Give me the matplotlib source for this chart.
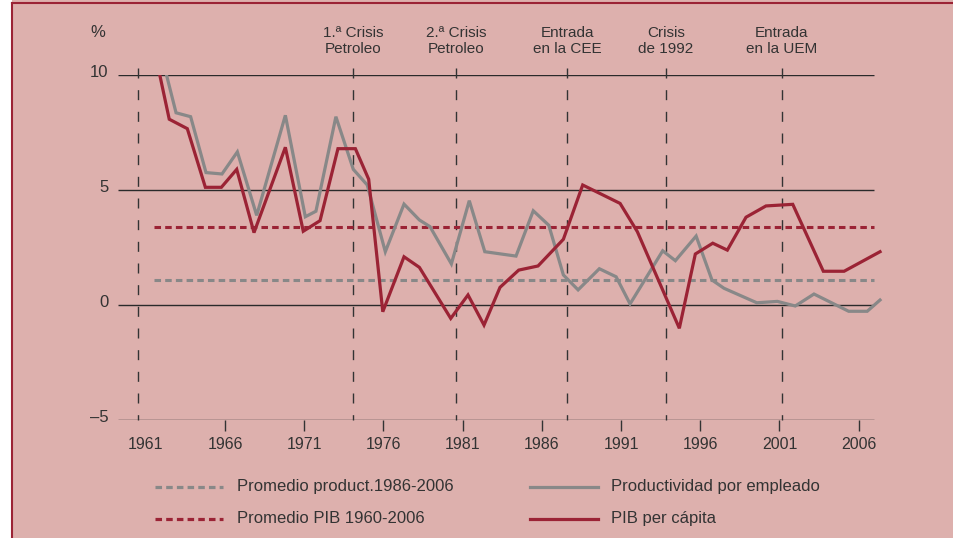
import matplotlib
matplotlib.use("Agg")
import matplotlib.pyplot as plt
from matplotlib.lines import Line2D
from matplotlib.patches import Rectangle
from matplotlib.transforms import ScaledTranslation

plt.rcParams['font.family'] = ['Liberation Sans', 'DejaVu Sans']
plt.rcParams['lines.scale_dashes'] = False

# --- data (x in axis years, y in %) ---
pib_x = [1961.39, 1962.48, 1963.62, 1964.76, 1965.77, 1966.74, 1967.83, 1969.81,
         1970.94, 1972.0, 1973.13, 1974.23, 1975.07, 1975.96, 1977.3, 1978.27,
         1980.25, 1981.34, 1982.35, 1983.36, 1984.54, 1985.76, 1987.36, 1988.58,
         1990.94, 1992.03, 1994.68, 1995.69, 1996.79, 1997.71, 1998.89, 2000.15,
         2001.84, 2003.77, 2005.08, 2007.35]
pib_y = [11.6, 8.09, 7.68, 5.13, 5.13, 5.91, 3.16, 6.87,
         3.22, 3.68, 6.81, 6.81, 5.48, -0.28, 2.11, 1.65,
         -0.57, 0.45, -0.86, 0.78, 1.53, 1.71, 2.87, 5.23,
         4.43, 3.2, -1.0, 2.23, 2.7, 2.4, 3.83, 4.32,
         4.39, 1.48, 1.48, 2.33]

prod_x = [1961.58, 1962.91, 1963.83, 1964.8, 1965.81, 1966.78, 1968.0, 1969.81,
          1971.07, 1971.74, 1973.0, 1974.1, 1974.98, 1976.12, 1977.3, 1978.27,
          1978.94, 1980.29, 1981.42, 1982.4, 1984.37, 1985.46, 1986.44, 1987.36,
          1988.29, 1989.63, 1990.69, 1991.57, 1993.63, 1994.43, 1995.74, 1996.74,
          1997.5, 1999.57, 2000.87, 2002.0, 2003.18, 2005.37, 2006.54, 2007.35]
prod_y = [12.0, 8.37, 8.2, 5.77, 5.71, 6.67, 3.91, 8.26,
          3.85, 4.09, 8.2, 5.91, 5.23, 2.33, 4.4, 3.71,
          3.42, 1.8, 4.55, 2.33, 2.14, 4.11, 3.48, 1.32,
          0.67, 1.59, 1.24, 0.06, 2.37, 1.94, 3.01, 1.1,
          0.74, 0.11, 0.17, -0.03, 0.49, -0.26, -0.26, 0.23]

prom_pib = 3.39
prom_prod = 1.09
prom_span = [1961.52, 2007.0]

event_x = [1960.53, 1974.1, 1980.6, 1987.6, 1993.84, 2001.16]
event_labels = ['', '1.ª Crisis\nPetroleo', '2.ª Crisis\nPetroleo',
                'Entrada\nen la CEE', 'Crisis\nde 1992', 'Entrada\nen la UEM']

year_ticks = [1961, 1966, 1971, 1976, 1981, 1986, 1991, 1996, 2001, 2006]
y_ticks = [-5, 0, 5, 10]
y_labels = ['–5', '0', '5', '10']

legend_labels = ['Promedio product.1986-2006', 'Promedio PIB 1960-2006',
                 'Productividad por empleado', 'PIB per cápita']

# --- style ---
W, H = 954, 538
bg = '#DDB0AD'
red = '#9B2335'
gray = '#888888'
ink = '#333333'
dot = (0, (4.7, 3.0))

fig = plt.figure(figsize=(W / 100, H / 100), dpi=100, facecolor='white')
fig.add_artist(Rectangle((12 / W, 0), 1 - 12 / W, 1, transform=fig.transFigure,
                         facecolor=bg, edgecolor='none', zorder=-10))
fig.add_artist(Line2D([12.5 / W, 1], [1 - 3 / H, 1 - 3 / H], transform=fig.transFigure,
                      color=red, lw=1.5))
fig.add_artist(Line2D([12.5 / W, 12.5 / W], [0, 1 - 3 / H], transform=fig.transFigure,
                      color=red, lw=1.5))

ax = fig.add_axes([118 / W, (H - 420.3) / H, 782 / W, 345 / H])
ax.set_facecolor('none')
ax.set_xlim(1959.245, 2008.61)
ax.set_ylim(-5, 10)
for s in ax.spines.values():
    s.set_visible(False)

grid_end = 2006.95
for v in [10, 5, 0, -5]:
    ax.hlines(v, 1959.245, grid_end, color='#2a2a2a', lw=1.0, zorder=1)

for x in event_x:
    ax.plot([x, x], [10.32, -5], color=ink, lw=1.0, linestyle=(0, (7.2, 8.4)),
            clip_on=False, zorder=2)
for x, lab in zip(event_x, event_labels):
    if lab:
        ax.text(x, 11.49, lab, ha='center', va='center', fontsize=11,
                color=ink, linespacing=1.15, clip_on=False)

ax.hlines(prom_pib, *prom_span, color=red, lw=2.2, linestyles=[dot], zorder=3)
ax.hlines(prom_prod, *prom_span, color=gray, lw=2.2, linestyles=[dot], zorder=3)

ax.plot(prod_x, prod_y, color=gray, lw=2.3, zorder=4, solid_joinstyle='miter')
ax.plot(pib_x, pib_y, color=red, lw=2.3, zorder=5, solid_joinstyle='miter')

ax.set_xticks(year_ticks)
ax.set_xticklabels([str(y) for y in year_ticks], fontsize=11.5, color=ink)
ax.tick_params(axis='x', direction='out', length=8, width=1, color=ink, pad=4)
ax.xaxis.get_major_ticks()[0].tick1line.set_visible(False)

ax.set_yticks(y_ticks)
ax.set_yticklabels(y_labels, fontsize=12, color=ink)
ax.tick_params(axis='y', length=0, pad=7)
for lab in ax.get_yticklabels():
    lab.set_transform(lab.get_transform() + ScaledTranslation(0, 4 / 100, fig.dpi_scale_trans))

ax.text(1957.98, 11.88, '%', ha='center', va='center', fontsize=12, color=ink,
        clip_on=False)

# --- legend drawn by hand, two rows, two columns ---
rows = [487, 518.5]
items = [(155, 223, 237, rows[0], gray, dot), (155, 223, 237, rows[1], red, dot),
         (530, 598, 611, rows[0], gray, '-'), (530, 598, 611, rows[1], red, '-')]
for (x0, x1, tx, y, c, ls), lab in zip(items, legend_labels):
    fig.add_artist(Line2D([x0 / W, x1 / W], [1 - y / H, 1 - y / H],
                          transform=fig.transFigure, color=c, lw=2.3, linestyle=ls))
    fig.text(tx / W, 1 - y / H, lab, ha='left', va='center', fontsize=12, color=ink)

fig.savefig('out.png', dpi=100, facecolor=fig.get_facecolor())
